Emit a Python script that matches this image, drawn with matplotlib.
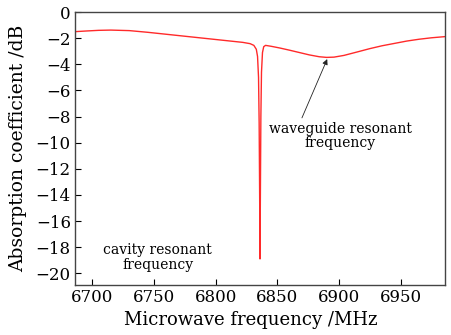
import matplotlib
matplotlib.use("Agg")
import matplotlib.pyplot as plt

# Absorption spectrum
freq_mhz = [6686, 6695, 6705, 6715, 6730, 6745, 6760, 6775, 6790, 6805,
            6815, 6822, 6828, 6831, 6833, 6834, 6834.8, 6835.3, 6835.7,
            6836.0, 6836.3, 6836.7, 6837.2, 6838.0, 6839.0, 6840.5,
            6845, 6852, 6860, 6868, 6876, 6884, 6890, 6896, 6904, 6915,
            6925, 6935, 6945, 6955, 6965, 6975, 6986]
absorb_db = [-1.50, -1.45, -1.40, -1.38, -1.42, -1.55, -1.70, -1.85, -2.00, -2.15,
             -2.25, -2.32, -2.42, -2.55, -2.85, -3.4, -5.0, -8.5, -14.0,
             -18.9, -14.0, -8.0, -4.6, -3.1, -2.65, -2.55,
             -2.62, -2.75, -2.92, -3.10, -3.28, -3.42, -3.47, -3.45, -3.32, -3.05,
             -2.80, -2.58, -2.40, -2.22, -2.08, -1.97, -1.88]

x_ticks = [6700, 6750, 6800, 6850, 6900, 6950]
y_ticks = [0, -2, -4, -6, -8, -10, -12, -14, -16, -18, -20]

plt.rcParams['font.family'] = ['DejaVu Serif']

fig = plt.figure(figsize=(4.52, 3.35), dpi=100)
ax = fig.add_axes([0.166, 0.149, 0.8185, 0.815])

ax.plot(freq_mhz, absorb_db, color='#ff2a2a', lw=1.0)

ax.set_xlim(6686, 6986)
ax.set_ylim(-20.9, 0)
ax.set_xticks(x_ticks)
ax.set_yticks(y_ticks)
ax.set_yticklabels(['0' if v == 0 else '\u2212%d' % -v for v in y_ticks])
ax.tick_params(direction='in', length=4, width=0.8, labelsize=12, pad=3)
ax.tick_params(axis='x', top=False)
ax.tick_params(axis='y', right=False)
for sp in ax.spines.values():
    sp.set_color('#444444')
    sp.set_linewidth(1.0)

ax.set_xlabel('Microwave frequency /MHz', fontsize=13)
ax.set_ylabel('Absorption coefficient /dB', fontsize=13.5)
ax.xaxis.set_label_coords(0.476, -0.095)
ax.yaxis.set_label_coords(-0.13, 0.5)

# arrow pointing at the waveguide resonance
ax.annotate('', xy=(6890.5, -3.6), xytext=(6870, -8.1),
            arrowprops=dict(arrowstyle='-|>', color='#222222', lw=0.6,
                            shrinkA=0, shrinkB=0, mutation_scale=8))
ax.text(6901, -9.5, 'waveguide resonant\nfrequency', ha='center', va='center',
        fontsize=10, linespacing=1.05)
ax.text(6753, -18.8, 'cavity resonant\nfrequency', ha='center', va='center',
        fontsize=10, linespacing=1.05)

fig.savefig('out.png', dpi=100)
